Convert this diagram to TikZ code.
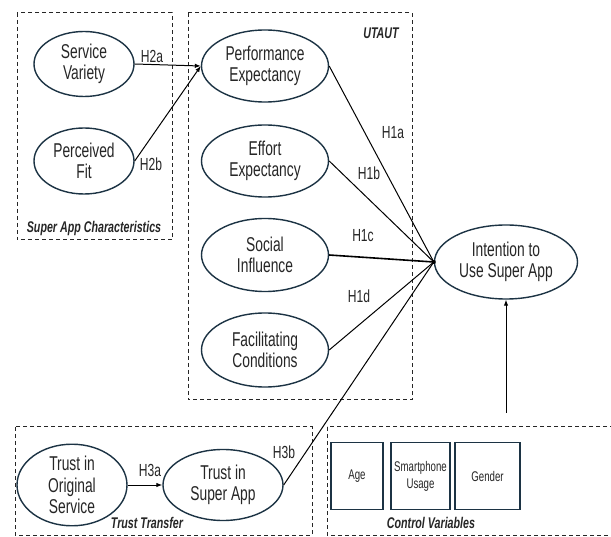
\documentclass[tikz,border=0pt]{standalone}
\usepackage{fontspec}
\setmainfont[FakeStretch=0.69]{Liberation Sans}
\usetikzlibrary{shapes.geometric,arrows.meta}
\definecolor{edgeblue}{HTML}{1C3344}
\tikzset{
  construct/.style={ellipse, draw=edgeblue, line width=1.4pt, inner sep=0pt, align=center,
    font=\fontsize{20}{21.5}\selectfont, text=black!85},
  ctrl/.style={rectangle, draw=edgeblue, line width=1.2pt, inner sep=0pt, align=center,
    font=\fontsize{14}{17}\selectfont, text=black!85},
  group/.style={draw=black!85, line width=1pt, dash pattern=on 4pt off 3pt},
  grouplabel/.style={font=\bfseries\itshape\fontsize{15.5}{17}\selectfont, text=black!85},
  hyp/.style={font=\fontsize{17.5}{19}\selectfont, text=black!85},
  path/.style={draw=black, line width=1pt},
  arr/.style={path, -{Latex[length=6pt,width=4.5pt]}}
}
\begin{document}
\begin{tikzpicture}[x=1pt,y=-1pt]
\useasboundingbox[fill=white] (0,0) rectangle (611,537);
% groups
\draw[group] (17,13) rectangle (172,240);
\draw[group] (188,13) rectangle (412,400);
\draw[group] (15,427) rectangle (312,535);
\draw[group] (327,427) rectangle (625,535);
\node[grouplabel] (lsac) at (94,228) {Super App Characteristics};
\node[grouplabel] (lutaut) at (381,33) {UTAUT};
\node[grouplabel] (ltt) at (147,523) {Trust Transfer};
\node[grouplabel] (lcv) at (431,523) {Control Variables};
% constructs
\node[construct, minimum width=100pt, minimum height=65pt] (sv) at (84,64) {Service\\Variety};
\node[construct, minimum width=100pt, minimum height=66pt] (pf) at (84,161) {Perceived\\Fit};
\node[construct, minimum width=127pt, minimum height=72pt] (pe) at (265,66) {Performance\\Expectancy};
\node[construct, minimum width=127pt, minimum height=72pt] (ee) at (265,161) {Effort\\Expectancy};
\node[construct, minimum width=127pt, minimum height=73pt] (si) at (265,255) {Social\\Influence};
\node[construct, minimum width=127pt, minimum height=74pt] (fc) at (265,350) {Facilitating\\Conditions};
\node[construct, minimum width=143pt, minimum height=74pt] (iu) at (506,262) {Intention to\\Use Super App};
\node[construct, minimum width=110pt, minimum height=74pt] (tos) at (72,485) {Trust in\\Original\\Service};
\node[construct, minimum width=120pt, minimum height=71pt] (tsa) at (223,485) {Trust in\\Super App};
% control variables
\node[ctrl, minimum width=52pt, minimum height=67pt] (age) at (357,476) {Age};
\node[ctrl, minimum width=59pt, minimum height=67pt] (su) at (420.5,476) {Smartphone\\Usage};
\node[ctrl, minimum width=65pt, minimum height=67pt] (gen) at (487.5,476) {Gender};
\coordinate (cvtop) at (506,413);
% connectors
\draw[arr] (sv.east) -- (pe.west);
\draw[arr] (pf.east) -- (pe.west);
\draw[path] (pe.east) -- (iu.west);
\draw[path] (ee.east) -- (iu.west);
\draw[path, line width=1.6pt] (si.east) -- (iu.west);
\draw[path] (fc.east) -- (iu.west);
\draw[path] (tsa.east) -- (iu.west);
\fill (iu.west) circle (2pt);
\draw[arr] (tos.east) -- (tsa.west);
\draw[arr] (cvtop) -- (iu.south);
% hypothesis labels
\node[hyp] (h2a) at (152,56) {H2a};
\node[hyp] (h2b) at (151,164) {H2b};
\node[hyp] (h1a) at (393,133) {H1a};
\node[hyp] (h1b) at (369,173) {H1b};
\node[hyp] (h1c) at (363,236) {H1c};
\node[hyp] (h1d) at (359,296) {H1d};
\node[hyp] (h3a) at (150,470) {H3a};
\node[hyp] (h3b) at (284,452) {H3b};
\end{tikzpicture}
\end{document}
